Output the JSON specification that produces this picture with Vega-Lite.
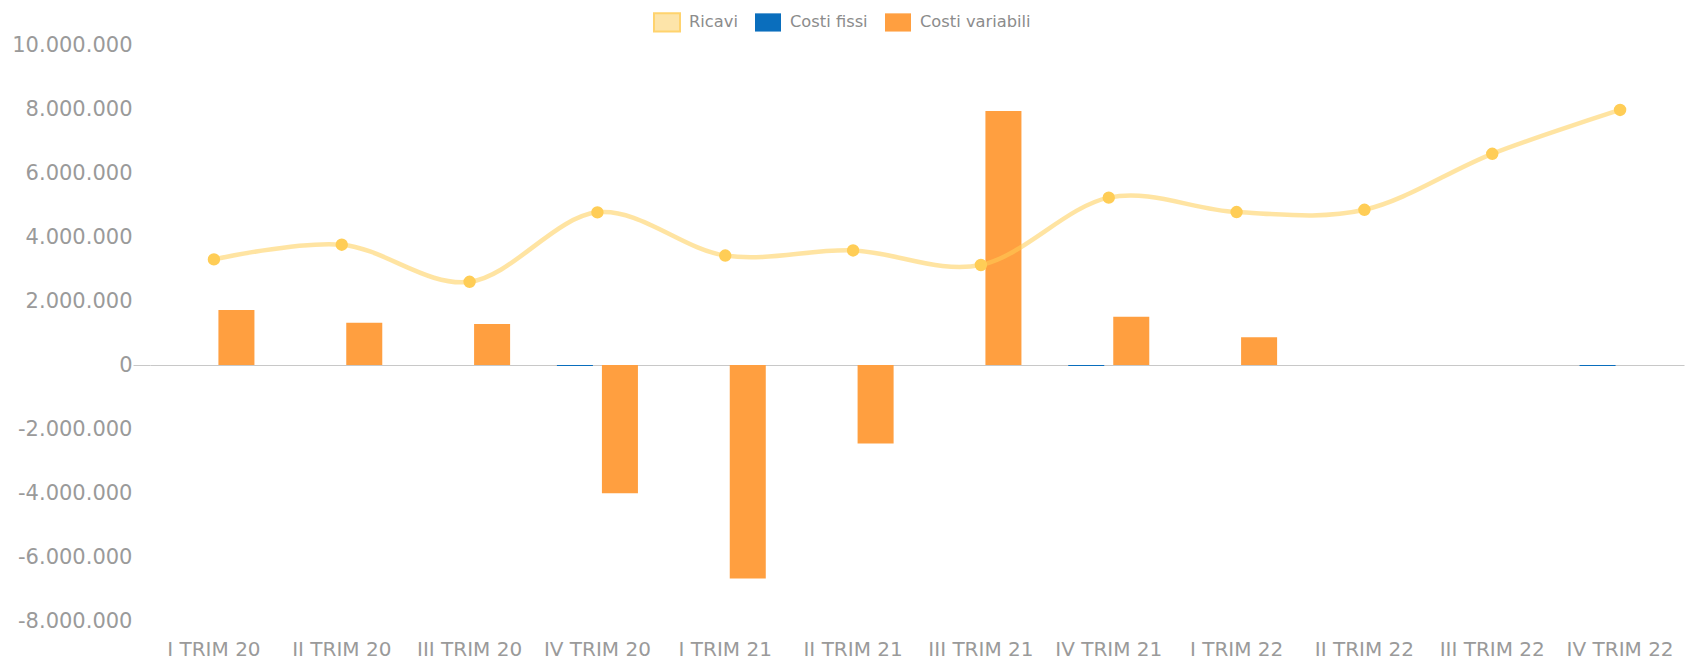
{
  "$schema": "https://vega.github.io/schema/vega-lite/v6.json",
  "width": 1534,
  "height": 576,
  "autosize": {"type": "none"},
  "padding": {"left": 150, "top": 45, "right": 2, "bottom": 47},
  "config": {
    "view": {"stroke": null},
    "font": "DejaVu Sans"
  },
  "data": {
    "values": [
      {"trimestre": "I TRIM 20", "serie": "Ricavi", "valore": 3300000},
      {"trimestre": "I TRIM 20", "serie": "Costi fissi", "valore": 0},
      {"trimestre": "I TRIM 20", "serie": "Costi variabili", "valore": 1720000},
      {"trimestre": "II TRIM 20", "serie": "Ricavi", "valore": 3760000},
      {"trimestre": "II TRIM 20", "serie": "Costi fissi", "valore": 0},
      {"trimestre": "II TRIM 20", "serie": "Costi variabili", "valore": 1320000},
      {"trimestre": "III TRIM 20", "serie": "Ricavi", "valore": 2600000},
      {"trimestre": "III TRIM 20", "serie": "Costi fissi", "valore": 0},
      {"trimestre": "III TRIM 20", "serie": "Costi variabili", "valore": 1280000},
      {"trimestre": "IV TRIM 20", "serie": "Ricavi", "valore": 4770000},
      {"trimestre": "IV TRIM 20", "serie": "Costi fissi", "valore": -30000},
      {"trimestre": "IV TRIM 20", "serie": "Costi variabili", "valore": -4010000},
      {"trimestre": "I TRIM 21", "serie": "Ricavi", "valore": 3420000},
      {"trimestre": "I TRIM 21", "serie": "Costi fissi", "valore": 0},
      {"trimestre": "I TRIM 21", "serie": "Costi variabili", "valore": -6670000},
      {"trimestre": "II TRIM 21", "serie": "Ricavi", "valore": 3580000},
      {"trimestre": "II TRIM 21", "serie": "Costi fissi", "valore": 0},
      {"trimestre": "II TRIM 21", "serie": "Costi variabili", "valore": -2450000},
      {"trimestre": "III TRIM 21", "serie": "Ricavi", "valore": 3125000},
      {"trimestre": "III TRIM 21", "serie": "Costi fissi", "valore": 0},
      {"trimestre": "III TRIM 21", "serie": "Costi variabili", "valore": 7940000},
      {"trimestre": "IV TRIM 21", "serie": "Ricavi", "valore": 5230000},
      {"trimestre": "IV TRIM 21", "serie": "Costi fissi", "valore": -30000},
      {"trimestre": "IV TRIM 21", "serie": "Costi variabili", "valore": 1510000},
      {"trimestre": "I TRIM 22", "serie": "Ricavi", "valore": 4780000},
      {"trimestre": "I TRIM 22", "serie": "Costi fissi", "valore": 0},
      {"trimestre": "I TRIM 22", "serie": "Costi variabili", "valore": 870000},
      {"trimestre": "II TRIM 22", "serie": "Ricavi", "valore": 4850000},
      {"trimestre": "II TRIM 22", "serie": "Costi fissi", "valore": 0},
      {"trimestre": "II TRIM 22", "serie": "Costi variabili", "valore": 0},
      {"trimestre": "III TRIM 22", "serie": "Ricavi", "valore": 6600000},
      {"trimestre": "III TRIM 22", "serie": "Costi fissi", "valore": 0},
      {"trimestre": "III TRIM 22", "serie": "Costi variabili", "valore": 0},
      {"trimestre": "IV TRIM 22", "serie": "Ricavi", "valore": 7970000},
      {"trimestre": "IV TRIM 22", "serie": "Costi fissi", "valore": -30000},
      {"trimestre": "IV TRIM 22", "serie": "Costi variabili", "valore": 0}
    ]
  },
  "encoding": {
    "x": {
      "field": "trimestre",
      "type": "nominal",
      "sort": ["I TRIM 20", "II TRIM 20", "III TRIM 20", "IV TRIM 20", "I TRIM 21", "II TRIM 21", "III TRIM 21", "IV TRIM 21", "I TRIM 22", "II TRIM 22", "III TRIM 22", "IV TRIM 22"],
      "scale": {"paddingInner": 0.366, "paddingOuter": 0.183},
      "axis": {
        "title": null,
        "domain": false,
        "ticks": false,
        "labelAngle": 0,
        "labelFont": "DejaVu Sans",
        "labelFontSize": 20,
        "labelColor": "#9a9a9a",
        "labelPadding": 18
      }
    },
    "y": {
      "field": "valore",
      "type": "quantitative",
      "scale": {"domain": [-8000000, 10000000], "nice": false, "zero": false},
      "axis": {
        "title": null,
        "domain": false,
        "values": [-8000000, -6000000, -4000000, -2000000, 0, 2000000, 4000000, 6000000, 8000000, 10000000],
        "labelExpr": "(datum.value < 0 ? '-' : '') + replace(format(abs(datum.value), ','), /,/g, '.')",
        "labelFont": "DejaVu Sans",
        "labelFontSize": 21,
        "labelColor": "#9a9a9a",
        "ticks": true,
        "tickSize": 17,
        "tickColor": {"condition": {"test": "datum.value === 0", "value": "#c8c8c8"}, "value": "transparent"},
        "labelPadding": 1,
        "grid": true,
        "gridColor": {"condition": {"test": "datum.value === 0", "value": "#c8c8c8"}, "value": "transparent"},
        "gridWidth": 1.2
      }
    }
  },
  "layer": [
    {
      "transform": [{"filter": "datum.serie !== 'Ricavi'"}],
      "mark": {"type": "bar"},
      "encoding": {
        "xOffset": {
          "field": "serie",
          "type": "nominal",
          "sort": ["Costi fissi", "Costi variabili"],
          "scale": {"paddingInner": 0.2, "paddingOuter": 0}
        },
        "color": {
          "field": "serie",
          "type": "nominal",
          "scale": {
            "domain": ["Ricavi", "Costi fissi", "Costi variabili"],
            "range": ["#fde4a9", "#0a6ebd", "#ff9f40"]
          },
          "legend": {
            "orient": "none",
            "legendX": 503,
            "legendY": -37,
            "direction": "horizontal",
            "title": null,
            "padding": 0,
            "symbolType": "M-1,-0.7H1V0.7H-1Z",
            "symbolSize": 676,
            "symbolStrokeWidth": 2,
            "labelFont": "DejaVu Sans",
            "labelFontSize": 16.3,
            "labelColor": "#8c8c8c",
            "labelOffset": 8,
            "columnPadding": 13,
            "encode": {
              "symbols": {
                "update": {
                  "fill": [
                    {"test": "datum.value === 'Ricavi'", "value": "#fde4a9"},
                    {"test": "datum.value === 'Costi fissi'", "value": "#0a6ebd"},
                    {"value": "#ff9f40"}
                  ],
                  "stroke": [
                    {"test": "datum.value === 'Ricavi'", "value": "#ffd36e"},
                    {"value": "transparent"}
                  ],
                  "opacity": {"value": 1},
                  "fillOpacity": {"value": 1}
                }
              }
            }
          }
        }
      }
    },
    {
      "transform": [{"filter": "datum.serie === 'Ricavi'"}],
      "mark": {"type": "line", "interpolate": "cardinal", "color": "#ffcd56", "strokeOpacity": 0.55, "strokeWidth": 4.5},
      "encoding": {}
    },
    {
      "transform": [{"filter": "datum.serie === 'Ricavi'"}],
      "mark": {"type": "point", "filled": true, "size": 154, "color": "#ffcd56", "opacity": 1},
      "encoding": {}
    }
  ]
}
